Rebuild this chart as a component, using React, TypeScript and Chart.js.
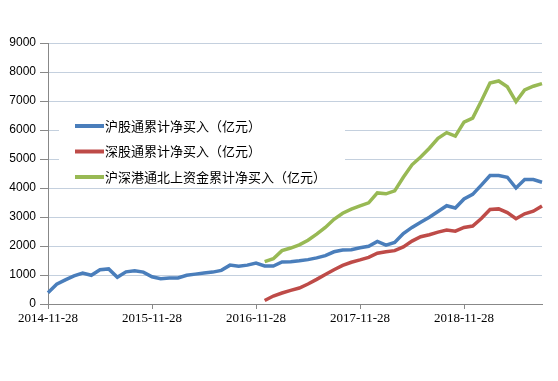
import React, { useEffect, useRef } from "react";
import { Chart, registerables } from "chart.js";

Chart.register(...registerables);

const months: string[] = [
  "2014-11-28", "2014-12-28",
  "2015-01-28", "2015-02-28", "2015-03-28", "2015-04-28", "2015-05-28", "2015-06-28",
  "2015-07-28", "2015-08-28", "2015-09-28", "2015-10-28", "2015-11-28", "2015-12-28",
  "2016-01-28", "2016-02-28", "2016-03-28", "2016-04-28", "2016-05-28", "2016-06-28",
  "2016-07-28", "2016-08-28", "2016-09-28", "2016-10-28", "2016-11-28", "2016-12-28",
  "2017-01-28", "2017-02-28", "2017-03-28", "2017-04-28", "2017-05-28", "2017-06-28",
  "2017-07-28", "2017-08-28", "2017-09-28", "2017-10-28", "2017-11-28", "2017-12-28",
  "2018-01-28", "2018-02-28", "2018-03-28", "2018-04-28", "2018-05-28", "2018-06-28",
  "2018-07-28", "2018-08-28", "2018-09-28", "2018-10-28", "2018-11-28", "2018-12-28",
  "2019-01-28", "2019-02-28", "2019-03-28", "2019-04-28", "2019-05-28", "2019-06-28",
  "2019-07-28", "2019-08-28",
];

const shLabel = "沪股通累计净买入（亿元）";
const szLabel = "深股通累计净买入（亿元）";
const totalLabel = "沪深港通北上资金累计净买入（亿元）";

const shValues: number[] = [
  390, 680, 830, 970, 1070, 990, 1180, 1210, 920, 1110, 1150, 1100,
  940, 870, 900, 900, 990, 1030, 1070, 1100, 1160, 1340, 1300, 1340,
  1410, 1310, 1310, 1450, 1460, 1490, 1530, 1590, 1670, 1800, 1860, 1870,
  1940, 1990, 2160, 2030, 2120, 2430, 2640, 2820, 2990, 3190, 3390, 3310,
  3620, 3780, 4100, 4430, 4430, 4370, 4000, 4290, 4290, 4200,
];

const szValues: (number | null)[] = [
  null, null, null, null, null, null, null, null, null, null, null, null,
  null, null, null, null, null, null, null, null, null, null, null, null,
  null, 120, 275, 380, 470, 550, 690, 850, 1020, 1180, 1330, 1440,
  1520, 1610, 1750, 1800, 1840, 1970, 2170, 2320, 2390, 2480, 2550, 2510,
  2640, 2690, 2950, 3260, 3280, 3150, 2940, 3110, 3200, 3380,
];

const totalValues: (number | null)[] = [
  null, null, null, null, null, null, null, null, null, null, null, null,
  null, null, null, null, null, null, null, null, null, null, null, null,
  null, 1460, 1560, 1840, 1930, 2040, 2200, 2410, 2640, 2920, 3130, 3270,
  3380, 3490, 3830, 3800, 3900, 4370, 4800, 5070, 5370, 5710, 5910, 5790,
  6270, 6410, 7000, 7620, 7690, 7490, 6980, 7380, 7510, 7600,
];

const yTicks = { min: 0, max: 9000, step: 1000 };
const labelEvery = 12;

const colors = ["#4A7EBB", "#BE4B48", "#98B954"];

const legendPlugin = {
  id: "floatingLegend",
  beforeDatasetsDraw(chart: any) {
    const ctx = chart.ctx;
    ctx.save();
    ctx.fillStyle = "#ffffff";
    ctx.fillRect(59, 108, 286, 75);
    ctx.font = '13px "Noto Sans CJK SC"';
    ctx.textBaseline = "middle";
    ctx.textAlign = "left";
    chart.data.datasets.forEach((ds: any, i: number) => {
      const y = 126 + i * 25.5;
      ctx.strokeStyle = ds.borderColor;
      ctx.lineWidth = 4;
      ctx.beginPath();
      ctx.moveTo(75, y);
      ctx.lineTo(104, y);
      ctx.stroke();
      ctx.fillStyle = "#000";
      ctx.fillText(ds.label, 105, y);
    });
    ctx.restore();
  },
};

export default function App() {
  const ref = useRef<HTMLCanvasElement | null>(null);
  useEffect(() => {
    if (!ref.current) return;
    const chart = new Chart(ref.current, {
      type: "line",
      data: {
        labels: months,
        datasets: [
          { label: shLabel, data: shValues, borderColor: colors[0], backgroundColor: colors[0] },
          { label: szLabel, data: szValues, borderColor: colors[1], backgroundColor: colors[1] },
          { label: totalLabel, data: totalValues, borderColor: colors[2], backgroundColor: colors[2] },
        ].map((d) => ({ ...d, borderWidth: 3.5, pointRadius: 0, tension: 0, fill: false })),
      },
      options: {
        responsive: false,
        animation: false,
        layout: { padding: { left: 0, right: 16, top: 43, bottom: 0 } },
        plugins: { legend: { display: false }, tooltip: { enabled: false } },
        scales: {
          x: {
            offset: false,
            afterFit: (s: any) => { s.height = 77; },
            border: { color: "#888", width: 1 },
            grid: {
              display: true,
              drawOnChartArea: false,
              tickLength: 5,
              tickColor: (c: any) => (c.index % labelEvery === 0 ? "#888" : "rgba(0,0,0,0)"),
            },
            ticks: {
              autoSkip: false,
              maxRotation: 0,
              minRotation: 0,
              padding: 2,
              color: "#000",
              font: { family: '"Liberation Serif"', size: 13 },
              callback: (_v: any, i: number) => (i % labelEvery === 0 ? months[i] : ""),
            },
          },
          y: {
            min: yTicks.min,
            max: yTicks.max,
            afterFit: (s: any) => { s.width = 48; },
            border: { color: "#888", width: 1 },
            grid: { color: "#C4D0DE", tickColor: "#888", tickLength: 8, lineWidth: 1 },
            ticks: {
              stepSize: yTicks.step,
              padding: 4,
              color: "#000",
              font: { family: '"Liberation Sans"', size: 12 },
              callback: (v: any) => String(v),
            },
          },
        },
      },
      plugins: [legendPlugin],
    });
    return () => chart.destroy();
  }, []);
  return (
    <div style={{ position: "fixed", left: 0, top: 0, width: 558, height: 381, background: "#fff" }}>
      <canvas ref={ref} width={558} height={381} style={{ display: "block" }} />
    </div>
  );
}
